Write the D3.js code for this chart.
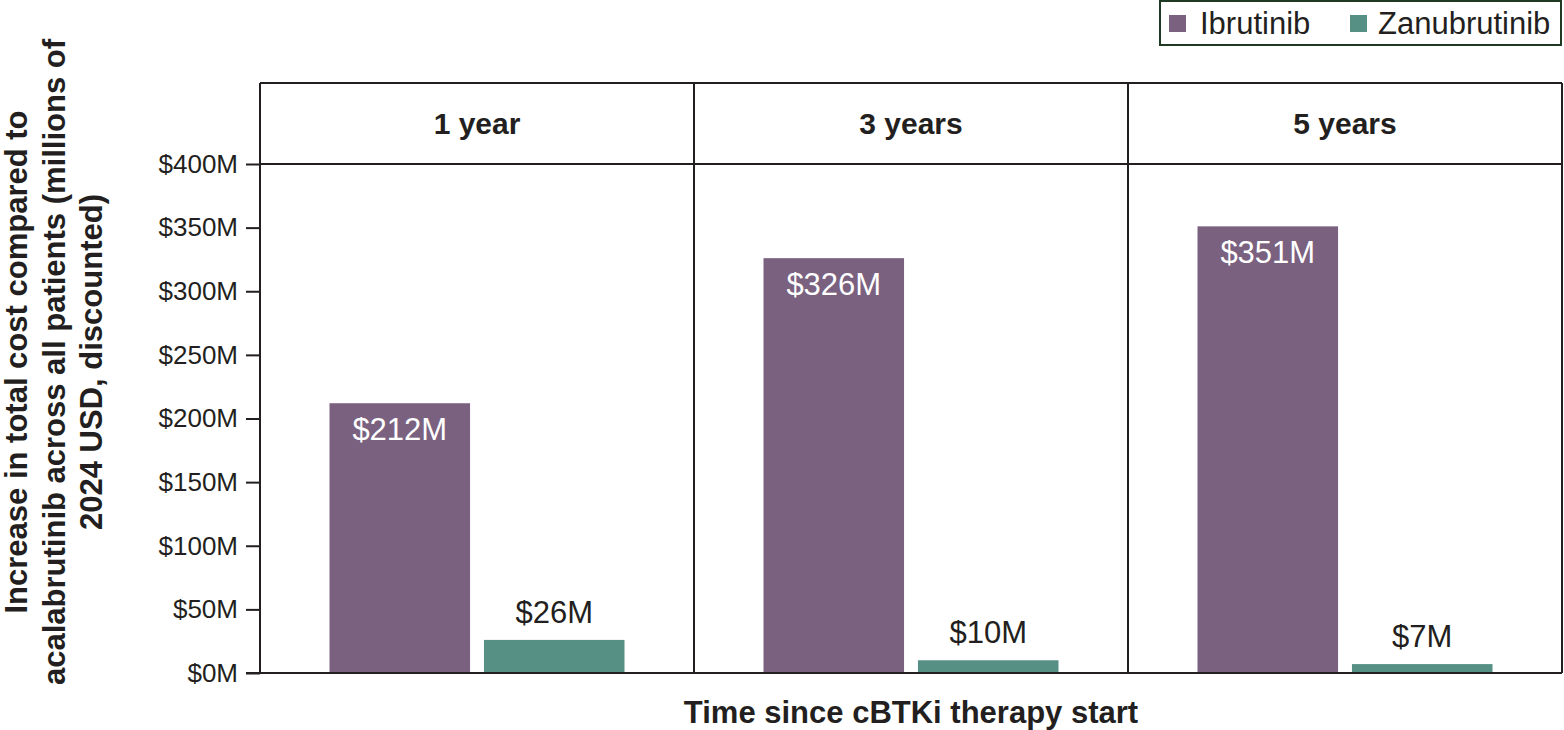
<!DOCTYPE html>
<html>
<head>
<meta charset="utf-8">
<script src="https://cdn.jsdelivr.net/npm/d3@7"></script>
<style>
  body { margin: 0; background: #fff; }
  svg { font-family: "Liberation Sans", Arial, sans-serif; }
</style>
</head>
<body>
<div id="chart"></div>
<script>
// data
let periods = ['1 year', '3 years', '5 years']
let drugs = ['Ibrutinib', 'Zanubrutinib']
let ibrutinibVals = [212, 326, 351]
let zanubrutinibVals = [26, 10, 7]
let yTicks = [0, 50, 100, 150, 200, 250, 300, 350, 400]

let colors = ['#7a6180', '#568f84']

let width = 1564, height = 730
let plot = {left: 260, right: 1562, top: 83, header: 164, bottom: 673}

let svg = d3.select('#chart').append('svg')
    .attr('width', width).attr('height', height)

// scales
let x0 = d3.scaleBand().domain(periods).range([plot.left, plot.right]).padding(0)
let x1 = d3.scaleBand().domain(drugs).range([0, x0.bandwidth()])
    .paddingInner(0.09).paddingOuter(0.45)
let y = d3.scaleLinear().domain([0, 400]).range([plot.bottom, plot.header])

// y axis
let yAxis = d3.axisLeft(y).tickValues(yTicks).tickSize(14).tickPadding(8)
    .tickFormat(d => '$' + d + 'M')
let gy = svg.append('g').attr('transform', `translate(${plot.left},0)`).call(yAxis)
gy.select('.domain').remove()
gy.selectAll('line').attr('stroke', '#231f20').attr('stroke-width', 2)
gy.selectAll('text').attr('font-size', 26).attr('fill', '#231f20')

// bars
let rows = periods.map((p, i) => ({period: p, vals: [ibrutinibVals[i], zanubrutinibVals[i]]}))
let groups = svg.selectAll('.grp').data(rows).enter().append('g')
    .attr('transform', d => `translate(${x0(d.period)},0)`)

groups.selectAll('rect').data(d => d.vals.map((v, j) => ({drug: drugs[j], v: v, j: j})))
    .enter().append('rect')
    .attr('x', d => x1(d.drug))
    .attr('y', d => y(d.v))
    .attr('width', x1.bandwidth())
    .attr('height', d => y(0) - y(d.v))
    .attr('fill', d => colors[d.j])

// value labels: white inside the tall bars, dark above the short ones
groups.selectAll('.lbl').data(d => d.vals.map((v, j) => ({drug: drugs[j], v: v, j: j})))
    .enter().append('text')
    .attr('x', d => x1(d.drug) + x1.bandwidth() / 2)
    .attr('y', d => d.j === 0 ? y(d.v) + 37 : y(d.v) - 17)
    .attr('text-anchor', 'middle')
    .attr('font-size', 31)
    .attr('fill', d => d.j === 0 ? '#fff' : '#231f20')
    .text(d => '$' + d.v + 'M')

// panel frame
let frame = svg.append('g').attr('stroke', '#231f20').attr('stroke-width', 2).attr('fill', 'none')
frame.append('line').attr('x1', plot.left).attr('x2', plot.right).attr('y1', plot.top).attr('y2', plot.top)
frame.append('line').attr('x1', plot.left).attr('x2', plot.right).attr('y1', plot.header).attr('y2', plot.header)
frame.append('line').attr('x1', plot.left - 14).attr('x2', plot.right).attr('y1', plot.bottom).attr('y2', plot.bottom)
frame.append('line').attr('x1', plot.left).attr('x2', plot.left).attr('y1', plot.top).attr('y2', plot.bottom)
periods.forEach(p => {
    let xr = x0(p) + x0.bandwidth()
    frame.append('line').attr('x1', xr).attr('x2', xr).attr('y1', plot.top).attr('y2', plot.bottom)
})

// panel headers
svg.selectAll('.hdr').data(periods).enter().append('text')
    .attr('x', d => x0(d) + x0.bandwidth() / 2)
    .attr('y', 134)
    .attr('text-anchor', 'middle')
    .attr('font-size', 30).attr('font-weight', 'bold').attr('fill', '#231f20')
    .text(d => d)

// axis titles
svg.append('text')
    .attr('x', (plot.left + plot.right) / 2).attr('y', 723)
    .attr('text-anchor', 'middle')
    .attr('font-size', 31).attr('font-weight', 'bold').attr('fill', '#231f20')
    .text('Time since cBTKi therapy start')

let yTitle = ['Increase in total cost compared to', 'acalabrutinib across all patients (millions of', '2024 USD, discounted)']
svg.append('g').attr('transform', 'translate(27,362) rotate(-90)')
    .selectAll('text').data(yTitle).enter().append('text')
    .attr('x', 0).attr('y', (d, i) => i * 37.5)
    .attr('text-anchor', 'middle')
    .attr('font-size', 31).attr('font-weight', 'bold').attr('fill', '#231f20')
    .text(d => d)

// legend
let legend = svg.append('g')
legend.append('rect').attr('x', 1160).attr('y', 1).attr('width', 401).attr('height', 44)
    .attr('fill', '#fff').attr('stroke', '#1f3a22').attr('stroke-width', 2)
let legX = [1169, 1350]
let legTextX = [1200, 1378]
drugs.forEach((dname, i) => {
    legend.append('rect').attr('x', legX[i]).attr('y', 15).attr('width', 17).attr('height', 17).attr('fill', colors[i])
    legend.append('text').attr('x', legTextX[i]).attr('y', 34)
        .attr('font-size', 31).attr('fill', '#231f20').text(dname)
})
</script>
</body>
</html>
